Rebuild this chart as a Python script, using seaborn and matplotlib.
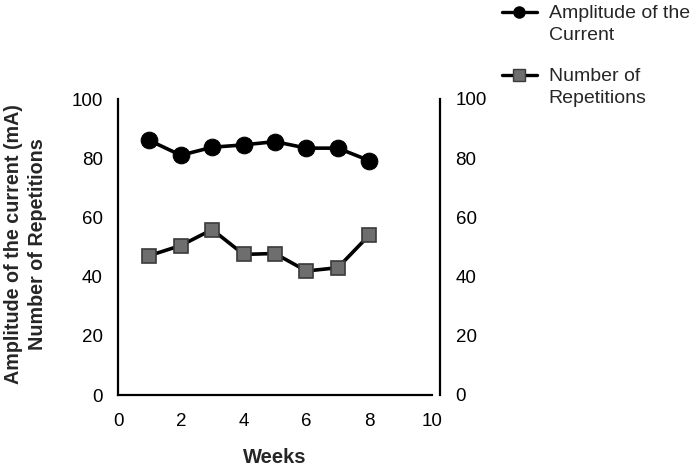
import matplotlib
matplotlib.use("Agg")
import matplotlib.pyplot as plt
import seaborn as sns
import pandas as pd
from matplotlib.lines import Line2D

weeks = [1, 2, 3, 4, 5, 6, 7, 8]
amplitude = [86.0, 81.0, 83.7, 84.5, 85.6, 83.4, 83.4, 79.2]
repetitions = [47.1, 50.5, 55.9, 47.5, 47.8, 41.9, 43.0, 54.0]
ticks_x = [0, 2, 4, 6, 8, 10]
ticks_y = [0, 20, 40, 60, 80, 100]
label_amp = "Amplitude of the\nCurrent"
label_rep = "Number of\nRepetitions"

sns.set_theme(style="white")
plt.rcParams["font.family"] = ["Liberation Sans", "DejaVu Sans"]

df = pd.DataFrame({"week": weeks, "amp": amplitude, "rep": repetitions})

fig = plt.figure(figsize=(7, 4.67), dpi=100)
ax = fig.add_axes([118 / 700, 1 - 395 / 467, 314 / 700, 296 / 467])
ax2 = ax.twinx()

sns.lineplot(data=df, x="week", y="amp", ax=ax, color="black", lw=2.6,
             marker="o", markersize=12, markeredgecolor="black",
             markerfacecolor="black", legend=False)
sns.lineplot(data=df, x="week", y="rep", ax=ax2, color="black", lw=2.6,
             marker="s", markersize=10, markeredgecolor="#3a3a3a",
             markeredgewidth=1.2, markerfacecolor="#6e6e6e", legend=False)

for a in (ax, ax2):
    a.set_ylim(0, 100)
    a.set_xlim(0, 10)
    a.set_yticks(ticks_y)
    a.tick_params(axis="both", length=0, labelsize=13.5, colors="black")
    a.spines["top"].set_visible(False)
    for s in a.spines.values():
        s.set_color("black")
        s.set_linewidth(1.6)

ax.set_xticks(ticks_x)
ax.tick_params(axis="x", pad=13)
ax.tick_params(axis="y", pad=11)
ax.spines["right"].set_visible(False)
ax2.spines["left"].set_visible(False)
ax2.spines["bottom"].set_visible(False)
ax2.spines["right"].set_position(("outward", 6))
ax2.tick_params(axis="y", pad=11)
ax2.set_ylabel("")

ax.set_xlabel("Weeks", fontsize=14.5, fontweight="bold", labelpad=13)
ax.set_ylabel("Amplitude of the current (mA)\nNumber of Repetitions",
              fontsize=14.2, fontweight="bold", linespacing=1.35)
ax.yaxis.set_label_coords(-71 / 314, 0.51)

handles = [
    Line2D([], [], color="black", lw=2.4, marker="o", markersize=8,
           markerfacecolor="black", markeredgecolor="black"),
    Line2D([], [], color="black", lw=2.4, marker="s", markersize=8,
           markerfacecolor="#6e6e6e", markeredgecolor="#3a3a3a"),
]
leg = fig.legend(handles, [label_amp, label_rep], loc="upper left",
                 bbox_to_anchor=(500 / 700, 1 - 3 / 467), frameon=False,
                 fontsize=14, handlelength=1.8, handletextpad=0.6,
                 labelspacing=1.25, borderpad=0.1, borderaxespad=0)
for t in leg.get_texts():
    t.set_linespacing(1.38)
for col in leg._legend_handle_box.get_children():
    for item in col.get_children():
        item.align = "top"

fig.savefig("out.png", dpi=100)
